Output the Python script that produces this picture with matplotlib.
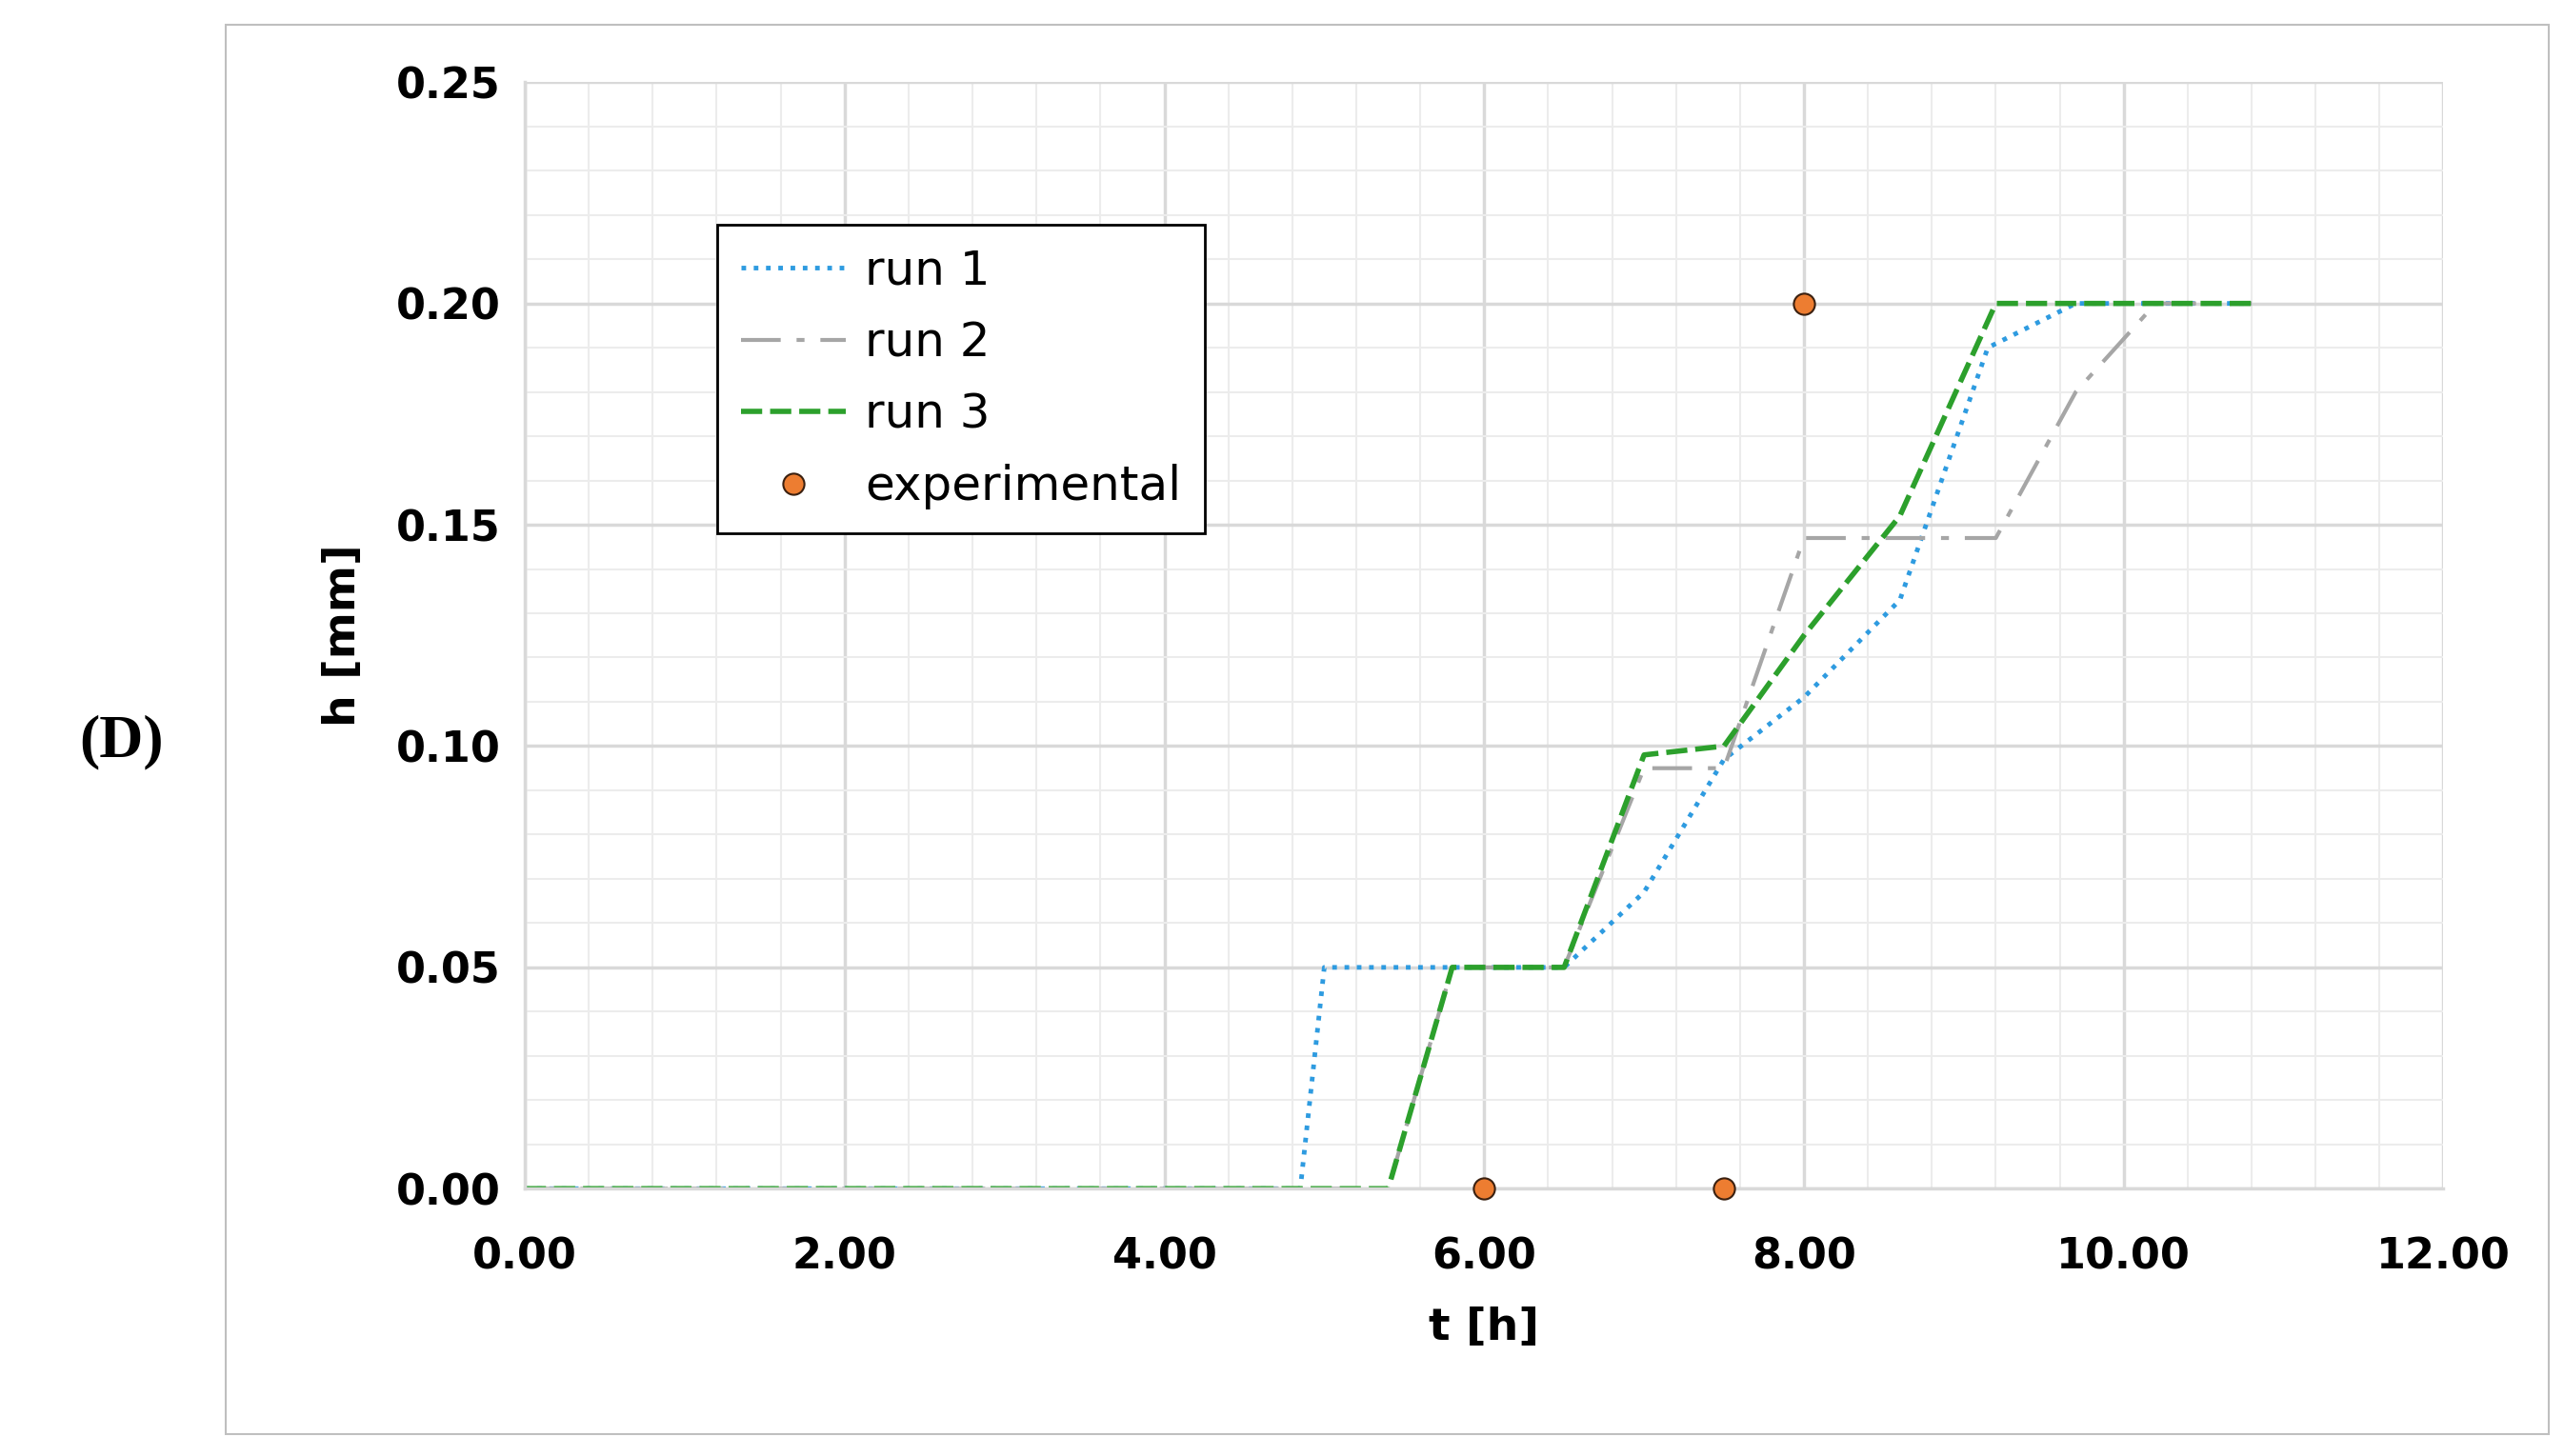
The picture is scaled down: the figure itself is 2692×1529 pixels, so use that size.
import matplotlib.pyplot as plt
from matplotlib.patches import Rectangle
import numpy as np

# data
t1 = [0.0, 4.85, 5.0, 6.5, 7.0, 7.5, 8.0, 8.6, 9.15, 9.7, 10.8]
h1 = [0.0, 0.0, 0.05, 0.05, 0.067, 0.097, 0.111, 0.133, 0.19, 0.2, 0.2]
t2 = [0.0, 5.4, 5.8, 6.5, 7.0, 7.5, 8.0, 9.2, 9.7, 10.2, 10.8]
h2 = [0.0, 0.0, 0.05, 0.05, 0.095, 0.095, 0.147, 0.147, 0.18, 0.2, 0.2]
t3 = [0.0, 5.4, 5.8, 6.5, 7.0, 7.5, 8.0, 8.6, 9.2, 10.8]
h3 = [0.0, 0.0, 0.05, 0.05, 0.098, 0.1, 0.125, 0.152, 0.2, 0.2]
t_exp = [6.0, 7.5, 8.0]
h_exp = [0.0, 0.0, 0.2]

fig = plt.figure(figsize=(26.92, 15.29), dpi=100)
fig.patches.append(Rectangle((0.088, 0.015), 0.906, 0.968, transform=fig.transFigure,
                             fill=False, edgecolor='#bfbfbf', lw=1.5))
fig.text(0.031, 0.49, '(D)', fontsize=46, fontweight='bold', family='Liberation Serif', va='center')

ax = fig.add_axes([0.2047, 0.1836, 0.7483, 0.760])
ax.plot(t1, h1, ':', color='#2e9be0', lw=3.5, label='run 1')
ax.plot(t2, h2, color='#a6a6a6', lw=3, dashes=[10, 4, 2, 4], label='run 2')
ax.plot(t3, h3, color='#2ca02c', lw=4, dashes=[4, 1.5], label='run 3')
ax.plot(t_exp, h_exp, 'o', color='#ed7d31', mec='#3a2010', mew=1.5, ms=16,
        label='experimental', clip_on=False, zorder=5)

ax.set_xlim(0, 12)
ax.set_ylim(0, 0.25)
ax.set_xticks(np.arange(0, 12.01, 2))
ax.set_yticks(np.arange(0, 0.251, 0.05))
ax.set_xticks(np.arange(0, 12.01, 0.4), minor=True)
ax.set_yticks(np.arange(0, 0.251, 0.01), minor=True)
ax.set_xticklabels([f'{v:.2f}' for v in np.arange(0, 12.01, 2)])
ax.set_yticklabels([f'{v:.2f}' for v in np.arange(0, 0.251, 0.05)])
ax.tick_params(which='both', length=0, labelsize=32)
ax.tick_params(axis='x', pad=36)
ax.tick_params(axis='y', pad=18)
for lab in ax.get_xticklabels() + ax.get_yticklabels():
    lab.set_fontweight('bold')
ax.grid(which='major', color='#d9d9d9', lw=2.5)
ax.grid(which='minor', color='#ececec', lw=1.5)
ax.set_axisbelow(True)
for s in ['top', 'right']:
    ax.spines[s].set_visible(False)
ax.spines['left'].set_color('#d9d9d9')
ax.spines['bottom'].set_color('#d9d9d9')
ax.spines['left'].set_linewidth(2.5)
ax.spines['bottom'].set_linewidth(2.5)

ax.set_xlabel('t [h]', fontsize=34, fontweight='bold', labelpad=22)
ax.set_ylabel('h [mm]', fontsize=34, fontweight='bold', labelpad=24)

leg = ax.legend(loc='upper left', bbox_to_anchor=(0.088, 0.893), fontsize=36,
                frameon=True, fancybox=False, edgecolor='black', handlelength=2.2,
                handletextpad=0.4, labelspacing=0.55, borderpad=0.5, framealpha=1)
leg.get_frame().set_linewidth(2)

fig.savefig('out.png', dpi=100)
